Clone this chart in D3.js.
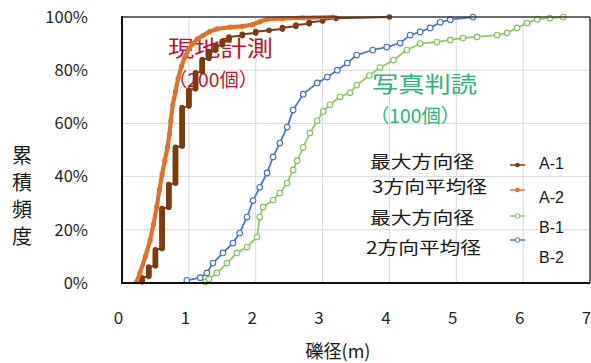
<!DOCTYPE html>
<html><head><meta charset="utf-8">
<script src="https://cdn.jsdelivr.net/npm/d3@7"></script>
<style>body{margin:0;background:#fff}svg{display:block}</style>
</head><body>
<svg id="c" width="591" height="363"></svg>
<script>
// ---- data ----
const xTicks = [0,1,2,3,4,5,6,7];
const yTicks = [0,20,40,60,80,100];
// A-1: 最大方向径 (現地計測, 200 stones) – measured sizes (m) and number of stones per size
const A1_size  = [0.3,0.4,0.5,0.6,0.7,0.8,0.9,1.0,1.1,1.2,1.3,1.4,1.5,1.6,1.8,2.0,2.2,2.4,2.6,2.8,3.0,3.2,4.0];
const A1_count = [4,8,13,31,18,28,30,13,13,10,6,4,4,3,2,2,1,2,2,2,2,1,1];
// A-2: 3方向平均径 – cumulative frequency (%) vs size (m)
const A2_size = [0.22,0.27,0.35,0.42,0.47,0.52,0.56,0.6,0.64,0.68,0.71,0.73,0.76,0.8,0.84,0.89,0.94,1.0,1.06,1.13,1.21,1.31,1.42,1.62,1.8,1.96,2.06,2.17,2.4,2.7,3.15];
const A2_cum  = [0.5,3.8,10,16,22,28.6,35,41,46,51,56,61,67,72,77,81.5,85,88,90,91.8,93,94.5,95.5,96.2,96.5,97.2,98.2,99.2,99.5,99.7,100];
// B-1: 最大方向径 (写真判読, 100 stones)
const B1_size = [1.25,1.3,1.42,1.57,1.72,1.87,2.02,2.06,2.11,2.26,2.36,2.47,2.56,2.62,2.71,2.81,2.92,3.01,3.11,3.26,3.41,3.51,3.7,3.86,4.06,4.26,4.46,4.71,4.91,5.1,5.31,5.61,5.76,5.91,6.06,6.21,6.4,6.6];
const B1_cum  = [0.5,1.5,3.8,7.5,11.3,13.5,17.3,24.8,28.6,31.2,33.8,37.6,42.5,46,51,56.4,61,64.5,67,70,71.5,74.4,78,81,83.8,87.6,90,90.6,91.4,92.1,92.5,93.2,94,95.9,97.7,99.2,99.6,100];
// B-2: 2方向平均径
const B2_size = [0.97,1.17,1.27,1.36,1.51,1.66,1.76,1.87,1.96,2.06,2.17,2.26,2.36,2.47,2.56,2.71,2.92,3.07,3.22,3.37,3.51,3.75,3.96,4.16,4.31,4.46,4.61,4.76,4.91,5.25];
const B2_cum  = [1,2,3.8,7.5,11.3,15,18.8,24.8,31,36,41.4,47.4,52.6,58.6,65,71,75.2,77.4,80,82.7,85.7,87.6,88.7,90.2,93.2,94.4,95.9,98,99,100];

const seriesNames = ["A-1","A-2","B-1","B-2"];
const legendText  = ["最大方向径","3方向平均径","最大方向径","2方向平均径"];

// ---- build points ----
const A1 = [];
let n = 0;
const A1_total = d3.sum(A1_count);
A1_size.forEach((s,i)=>{ for(let k=0;k<A1_count[i];k++){ n++; A1.push([s, n/A1_total*100]); } });
const zip = (a,b)=>a.map((v,i)=>[v,b[i]]);
const A2 = zip(A2_size,A2_cum), B1 = zip(B1_size,B1_cum), B2 = zip(B2_size,B2_cum);

const svg = d3.select("#c");
const x = d3.scaleLinear().domain([0,7]).range([122,590]);
const y = d3.scaleLinear().domain([0,100]).range([283,17]);
const CJK = "'Noto Sans CJK JP','Noto Sans',sans-serif";

// grid
const g = svg.append("g");
g.selectAll("line.v").data(xTicks.slice(1,-1)).join("line")
  .attr("x1",d=>x(d)).attr("x2",d=>x(d)).attr("y1",y(0)).attr("y2",y(100))
  .attr("stroke","#d9d9d9").attr("stroke-width",1);
g.selectAll("line.h").data(yTicks.slice(1,-1)).join("line")
  .attr("x1",x(0)).attr("x2",x(7)).attr("y1",d=>y(d)).attr("y2",d=>y(d))
  .attr("stroke","#d9d9d9").attr("stroke-width",1);

// legend text block (behind curves)
const legY = [162,187,218,248];
svg.selectAll("text.lt").data(legendText).join("text")
  .attr("x",(d,i)=> i===3 ? 366 : (i===1?372:370)).attr("y",(d,i)=>legY[i]).attr("dy","0.35em")
  .attr("font-family",CJK).attr("font-size",17).attr("fill","#1a1a1a")
  .attr("textLength",(d,i)=> d.length===5?104:115).attr("lengthAdjust","spacingAndGlyphs")
  .text(d=>d);

// annotations (drawn under the curves)
svg.append("text").attr("x",168).attr("y",48).attr("dy","0.35em").attr("font-family",CJK)
  .attr("font-size",22).attr("fill","#c8102e").attr("textLength",105).attr("lengthAdjust","spacingAndGlyphs").text("現地計測");
svg.append("text").attr("x",168).attr("y",80).attr("dy","0.35em").attr("font-family",CJK)
  .attr("font-size",19).attr("fill","#c8102e").attr("textLength",90).attr("lengthAdjust","spacingAndGlyphs").text("（200個）");
svg.append("text").attr("x",372).attr("y",84).attr("dy","0.35em").attr("font-family",CJK)
  .attr("font-size",22).attr("fill","#2db37c").attr("textLength",105).attr("lengthAdjust","spacingAndGlyphs").text("写真判読");
svg.append("text").attr("x",370).attr("y",116).attr("dy","0.35em").attr("font-family",CJK)
  .attr("font-size",19).attr("fill","#2db37c").attr("textLength",90).attr("lengthAdjust","spacingAndGlyphs").text("（100個）");

// series styles
const styles = [
  {data:A1, line:"#7e3a10", lw:2, mk:"#7e3a10", r:2.8, hollow:false},
  {data:A2, line:"#e2702c", lw:4.2, mk:"#e2702c", r:2.6, hollow:false},
  {data:B1, line:"#95c86c", lw:1.8, mk:"#86bf5a", r:2.8, hollow:true},
  {data:B2, line:"#4d79c0", lw:1.8, mk:"#4570b8", r:2.8, hollow:true}
];
const line = d3.line().x(d=>x(d[0])).y(d=>y(d[1]));
styles.forEach(s=>{
  svg.append("path").attr("d",line(s.data)).attr("fill","none")
    .attr("stroke",s.line).attr("stroke-width",s.lw).attr("stroke-linejoin","round");
  svg.append("g").selectAll("circle").data(s.data).join("circle")
    .attr("cx",d=>x(d[0])).attr("cy",d=>y(d[1])).attr("r",s.r)
    .attr("fill",s.hollow?"#f4f8fc":s.mk).attr("stroke",s.hollow?s.mk:"none").attr("stroke-width",1.1);
});

// frame
svg.append("line").attr("x1",x(0)).attr("x2",x(7)).attr("y1",y(100)).attr("y2",y(100)).attr("stroke","#3a3a3a").attr("stroke-width",1.5);
svg.append("line").attr("x1",x(7)).attr("x2",x(7)).attr("y1",y(100)).attr("y2",y(0)).attr("stroke","#3a3a3a").attr("stroke-width",1.5);
svg.append("line").attr("x1",x(0)).attr("x2",x(0)).attr("y1",y(100)-1).attr("y2",y(0)+1).attr("stroke","#111").attr("stroke-width",2);
svg.append("line").attr("x1",x(0)).attr("x2",x(7)).attr("y1",y(0)).attr("y2",y(0)).attr("stroke","#111").attr("stroke-width",2);

// axes
const xa = svg.append("g").attr("transform",`translate(-4,${y(0)})`)
  .call(d3.axisBottom(x).tickValues(xTicks).tickSize(0).tickPadding(29).tickFormat(d3.format("d")));
xa.select(".domain").remove();
xa.selectAll("text").attr("font-family",CJK).attr("font-size",17).attr("fill","#262626");
const ya = svg.append("g").attr("transform",`translate(${x(0)},0)`)
  .call(d3.axisLeft(y).tickValues(yTicks).tickSize(0).tickPadding(34).tickFormat(d=>d+"%"));
ya.select(".domain").remove();
ya.selectAll("text").attr("font-family",CJK).attr("font-size",16.5).attr("fill","#262626");

// axis titles
svg.append("text").attr("x",338).attr("y",352).attr("dy","0.35em").attr("text-anchor","middle")
  .attr("font-family",CJK).attr("font-size",18).attr("fill","#1a1a1a").text("礫径(m)");
svg.append("text").attr("x",22).attr("y",145)
  .style("writing-mode","vertical-rl").style("text-orientation","upright")
  .attr("font-family",CJK).attr("font-size",20).attr("letter-spacing",7).attr("fill","#1a1a1a")
  .text("累積頻度");

// legend keys
const keyY = [165,190,216,240];
const labY = [163,197,227,257];
styles.forEach((s,i)=>{
  svg.append("line").attr("x1",510).attr("x2",525).attr("y1",keyY[i]).attr("y2",keyY[i])
    .attr("stroke",s.line).attr("stroke-width",1.5);
  svg.append("circle").attr("cx",517.5).attr("cy",keyY[i]).attr("r",2.3)
    .attr("fill",s.hollow?"#fff":s.mk).attr("stroke",s.hollow?s.mk:"none");
  svg.append("text").attr("x",539).attr("y",labY[i]).attr("dy","0.35em")
    .attr("font-family","'Liberation Sans',Arial,sans-serif").attr("font-size",16).attr("fill","#1a1a1a")
    .text(seriesNames[i]);
});
</script>
</body></html>
